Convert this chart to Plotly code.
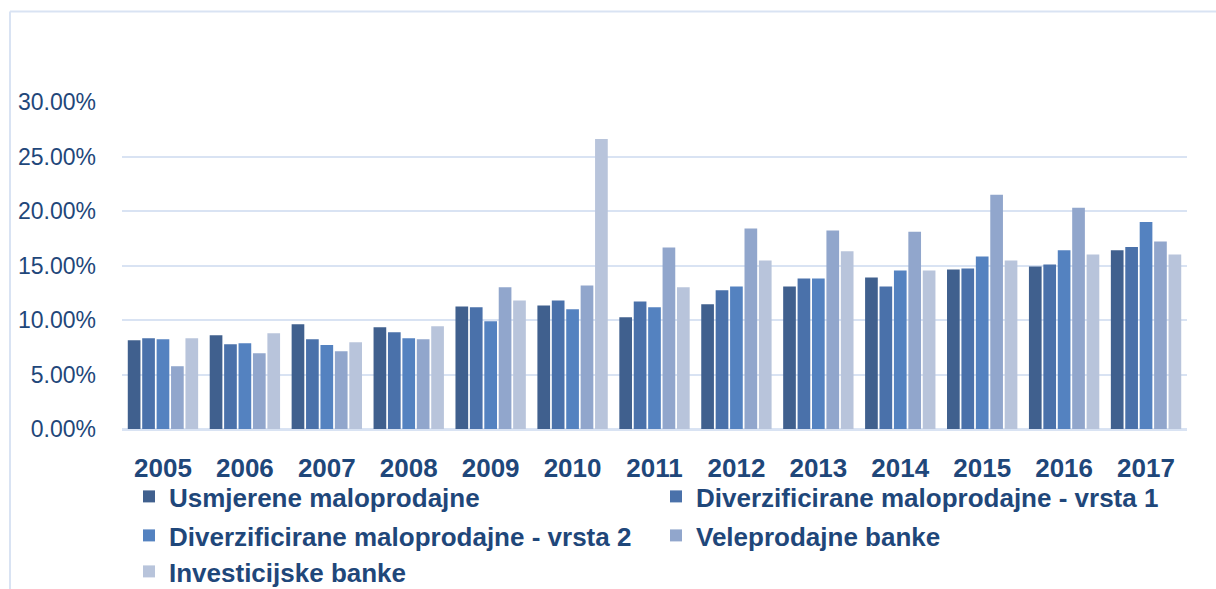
import plotly.graph_objects as go

years = ["2005", "2006", "2007", "2008", "2009", "2010", "2011",
         "2012", "2013", "2014", "2015", "2016", "2017"]

usmjerene = [8.14, 8.60, 9.60, 9.33, 11.25, 11.34, 10.25, 11.44, 13.08, 13.90, 14.64, 14.90, 16.40]
div_vrsta1 = [8.33, 7.78, 8.23, 8.87, 11.16, 11.80, 11.70, 12.72, 13.80, 13.08, 14.73, 15.10, 16.70]
div_vrsta2 = [8.23, 7.87, 7.70, 8.33, 9.88, 10.98, 11.16, 13.08, 13.80, 14.55, 15.83, 16.40, 19.00]
veleprodajne = [5.76, 6.95, 7.14, 8.23, 13.00, 13.17, 16.65, 18.39, 18.20, 18.10, 21.50, 20.30, 17.20]
investicijske = [8.33, 8.78, 7.96, 9.42, 11.80, 26.60, 13.00, 15.46, 16.30, 14.55, 15.46, 16.00, 16.00]

series_names = ["Usmjerene maloprodajne",
                "Diverzificirane maloprodajne - vrsta 1",
                "Diverzificirane maloprodajne - vrsta 2",
                "Veleprodajne banke",
                "Investicijske banke"]
series_values = [usmjerene, div_vrsta1, div_vrsta2, veleprodajne, investicijske]
colors = ["#40608E", "#4A71AA", "#5482C0", "#91A6CC", "#B8C4DB"]
legend_rows = ["legend", "legend", "legend2", "legend2", "legend3"]

TEXT = "#1F477A"
GRID = "#D9E3F3"

fig = go.Figure()
for name, vals, col, lg in zip(series_names, series_values, colors, legend_rows):
    fig.add_trace(go.Bar(
        x=years, y=[v / 100 for v in vals], name=name, legend=lg,
        marker=dict(color=col, line=dict(width=0)),
    ))

W, H = 1216, 589
ml, mr, mt, mb = 122, 29, 102, 160
pw, ph = W - ml - mr, H - mt - mb

def px_x(x):
    return (x - ml) / pw

def px_y(y):
    return (H - mb - y) / ph

def legend_row(top_px):
    return dict(
        orientation="h", x=px_x(129), xanchor="left", y=px_y(top_px), yanchor="top",
        entrywidth=482, entrywidthmode="pixels",
        font=dict(size=26, weight="bold", color=TEXT),
        bgcolor="rgba(0,0,0,0)", traceorder="normal",
        tracegroupgap=0, itemclick=False, itemdoubleclick=False,
    )

fig.update_layout(
    width=W, height=H,
    margin=dict(l=ml, r=mr, t=mt, b=mb, autoexpand=False),
    paper_bgcolor="white", plot_bgcolor="white",
    barmode="group", bargap=0.12, bargroupgap=0.12,
    font=dict(family="Liberation Sans, Arial, sans-serif", color=TEXT),
    xaxis=dict(
        tickfont=dict(size=26, family="Liberation Sans, Arial, sans-serif", weight="bold", color=TEXT),
        showgrid=False, showline=True, linecolor=GRID, linewidth=2,
        ticks="", ticklabelstandoff=15,
    ),
    yaxis=dict(
        range=[0, 0.30], dtick=0.05, tickformat=".2%",
        tickfont=dict(size=23, color=TEXT),
        showgrid=True, gridcolor=GRID, gridwidth=2,
        zeroline=True, zerolinecolor=GRID, zerolinewidth=2,
        showline=False, ticks="", ticklabelstandoff=25,
    ),
    legend=legend_row(473),
    legend2=legend_row(512),
    legend3=legend_row(548),
    shapes=[
        dict(type="line", xref="paper", yref="paper",
             x0=px_x(10), x1=px_x(1216), y0=px_y(11.5), y1=px_y(11.5),
             line=dict(color=GRID, width=2)),
        dict(type="line", xref="paper", yref="paper",
             x0=px_x(10), x1=px_x(10), y0=px_y(11.5), y1=px_y(589),
             line=dict(color=GRID, width=2)),
    ],
)

fig.write_html("out.html", config={"displayModeBar": False},
               post_script="document.body.style.margin='0px';")
